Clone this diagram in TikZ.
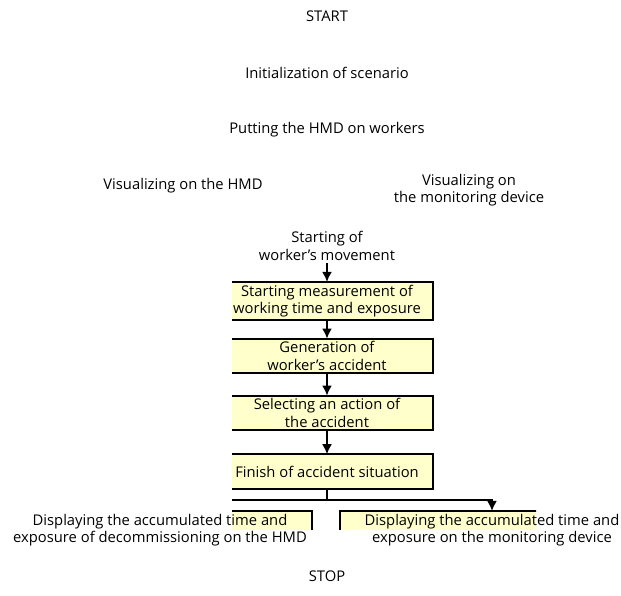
\documentclass[tikz,border=0pt]{standalone}
\usepackage{fontspec}
\setmainfont{Open Sans}
\usetikzlibrary{arrows.meta, backgrounds}
\definecolor{boxfill}{RGB}{255, 255, 204}

\begin{document}
\begin{tikzpicture}[x=0.025cm, y=-0.025cm,
        every node/.style={font=\fontsize{10.5}{12.2}\selectfont, align=center, inner sep=2pt},
        stepbox/.style={minimum width=5.3cm, minimum height=0.85cm},
        outbox/.style={minimum width=7.6cm, minimum height=0.9cm},
        edge/.style={line width=1.4pt},
        flow/.style={line width=1.3pt, -{Latex[length=2.5mm, width=2.5mm]}}]
        \useasboundingbox (0,0) rectangle (621,596);

        \node (start) at (327,16) {START};
        \node (init) at (327,73) {Initialization of scenario};
        \node (puton) at (327,130) {Putting the HMD on workers};
        \node (vishmd) at (183,186) {Visualizing on the HMD};
        \node (vismon) at (469,190) {Visualizing on\\the monitoring device};
        \node (move) at (327,246) {Starting of\\worker’s movement};

        \node[stepbox] (measure) at (327,301) {Starting measurement of\\working time and exposure};
        \node[stepbox] (accident) at (327,356) {Generation of\\worker’s accident};
        \node[stepbox] (action) at (327,413) {Selecting an action of\\the accident};
        \node[stepbox] (finish) at (327,471.5) {Finish of accident situation};

        \node[outbox] (showhmd) at (160,530) {Displaying the accumulated time and\\exposure of decommissioning on the HMD};
        \node[outbox] (showmon) at (492,530) {Displaying the accumulated time and\\exposure on the monitoring device};

        \node (stop) at (327,576) {STOP};

        \begin{scope}[on background layer]
            \clip (232,264) rectangle (536,530);
            \foreach \b in {measure, accident, action, finish, showhmd, showmon} {
                \fill[boxfill] (\b.north west) rectangle (\b.south east);
                \draw[edge] (\b.north west) rectangle (\b.south east);
            }
            \draw[flow] (move) -- (measure);
            \draw[flow] (measure) -- (accident);
            \draw[flow] (accident) -- (action);
            \draw[flow] (action) -- (finish);
            \draw[flow] (finish.south) -- ++(0,11) -| (showhmd.north);
            \draw[flow] (finish.south) -- ++(0,11) -| (showmon.north);
        \end{scope}

    \end{tikzpicture}
\end{document}
